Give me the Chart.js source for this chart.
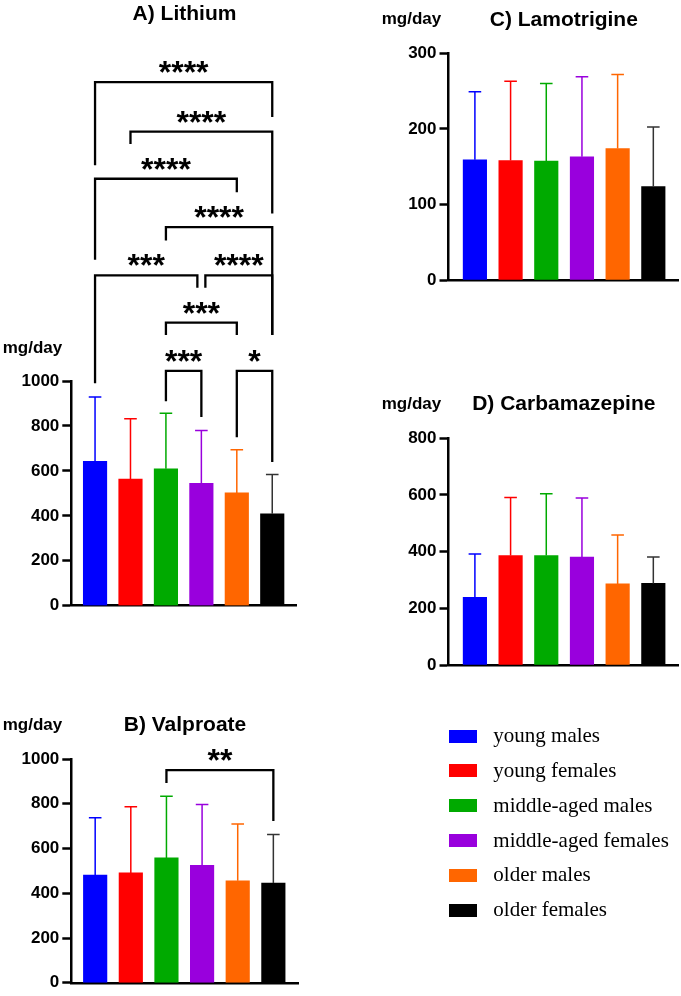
<!DOCTYPE html>
<html>
<head>
<meta charset="utf-8">
<script src="https://cdn.jsdelivr.net/npm/chart.js@4/dist/chart.umd.min.js"></script>
<style>
  html, body { margin: 0; padding: 0; background: #fff; }
  #wrap { position: relative; width: 681px; height: 996px; overflow: hidden; background: #fff; }
  canvas { position: absolute; }
  .t { position: absolute; font-family: "Liberation Sans", Arial, sans-serif; font-weight: bold; color: #000; line-height: 1; white-space: nowrap; }
  .title { font-size: 21px; transform: translateX(-50%); }
  .unit { font-size: 17px; }
  .lg { position: absolute; font-family: "Liberation Serif", "Times New Roman", serif; font-size: 21px; line-height: 1; color: #000; white-space: nowrap; }
  .sw { position: absolute; width: 28px; height: 13px; }
</style>
</head>
<body>
<div id="wrap">
  <canvas id="cA" width="340" height="620" style="left:0;top:0"></canvas>
  <canvas id="cB" width="340" height="376" style="left:0;top:620px"></canvas>
  <canvas id="cC" width="341" height="300" style="left:340px;top:0"></canvas>
  <canvas id="cD" width="341" height="400" style="left:340px;top:300px"></canvas>

  <div class="t title" style="left:184.5px;top:1.7px">A) Lithium</div>
  <div class="t unit" style="left:2.7px;top:338.5px">mg/day</div>
  <div class="t title" style="left:185px;top:712.9px">B) Valproate</div>
  <div class="t unit" style="left:2.7px;top:715.6px">mg/day</div>
  <div class="t title" style="left:563.8px;top:8.2px">C) Lamotrigine</div>
  <div class="t unit" style="left:381.7px;top:9.6px">mg/day</div>
  <div class="t title" style="left:563.8px;top:392.2px">D) Carbamazepine</div>
  <div class="t unit" style="left:381.7px;top:394.9px">mg/day</div>
  <div id="legend"></div>
</div>
<script>
// ---------------- DATA ----------------
const groups = ['young males', 'young females', 'middle-aged males', 'middle-aged females', 'older males', 'older females'];

const lithiumMean = [643, 563, 609, 545, 502, 409];
const lithiumSD   = [286, 269, 248, 235, 192, 175];

const valproateMean = [481, 491, 558, 525, 456, 446];
const valproateSD   = [257, 296, 276, 272, 254, 217];

const lamotrigineMean = [159, 158, 157.5, 163, 174, 123.5];
const lamotrigineSD   = [90, 105, 102.5, 106, 98, 79];

const carbamazepineMean = [239, 386, 386, 381, 286, 288];
const carbamazepineSD   = [153, 205, 218, 208, 173, 93];

// comparisons: [groupA, groupB, label, bracket level, left leg end, right leg end] (mg/day units)
const lithiumBrackets = [
  [0, 5, '****', 2330, 1960, 2175],
  [1, 5, '****', 2110, 2055, 1745],
  [0, 4, '****', 1900, 1540, 1840],
  [2, 5, '****', 1685, 1625, 1205],
  [0, 3, '***',  1470,  990, 1415],
  [3, 5, '****', 1470, 1415, 1205],
  [2, 4, '***',  1260, 1205, 1205],
  [2, 3, '***',  1045,  910,  840],
  [4, 5, '*',    1045,  750,  640]
];
const valproateBrackets = [
  [2, 5, '**', 950, 893, 723]
];

const lithiumTicks = [0, 200, 400, 600, 800, 1000];
const valproateTicks = [0, 200, 400, 600, 800, 1000];
const lamotrigineTicks = [0, 100, 200, 300];
const carbamazepineTicks = [0, 200, 400, 600, 800];

// ---------------- STYLE ----------------
const colors = ['#0000FF', '#FF0000', '#00AA00', '#9900DD', '#FF6600', '#000000'];
const FONT = '"Liberation Sans", Arial, sans-serif';

const errorBarPlugin = {
  id: 'errbars',
  afterDatasetsDraw(chart, args, opts) {
    const ctx = chart.ctx, xs = chart.scales.x, ys = chart.scales.y;
    const means = opts.means, sds = opts.sds;
    ctx.save();
    ctx.lineWidth = 1.5;
    ctx.lineCap = 'butt';
    means.forEach((m, i) => {
      const x = xs.getPixelForValue(i);
      const y0 = ys.getPixelForValue(m);
      const y1 = ys.getPixelForValue(m + sds[i]);
      ctx.strokeStyle = i === 5 ? '#333' : colors[i];
      ctx.beginPath();
      ctx.moveTo(x, y0);
      ctx.lineTo(x, y1);
      ctx.moveTo(x - 6.3, y1);
      ctx.lineTo(x + 6.3, y1);
      ctx.stroke();
    });
    ctx.restore();
  }
};

const bracketPlugin = {
  id: 'brackets',
  afterDraw(chart, args, opts) {
    const list = opts.list || [];
    if (!list.length) return;
    const ctx = chart.ctx, xs = chart.scales.x, ys = chart.scales.y;
    ctx.save();
    ctx.lineWidth = 2.3;
    ctx.strokeStyle = '#000';
    ctx.fillStyle = '#000';
    ctx.lineJoin = 'miter';
    list.forEach((b, k) => {
      const [a, c, label, top, lEnd, rEnd] = b;
      let xl = xs.getPixelForValue(a);
      let xr = xs.getPixelForValue(c);
      // nudge ends that meet another bracket at the same level
      list.forEach((o, j) => {
        if (j === k || o[3] !== top) return;
        if (o[0] === c) xr -= 4;
        if (o[1] === a) xl += 4;
      });
      const yt = ys.getPixelForValue(top);
      ctx.beginPath();
      ctx.moveTo(xl, ys.getPixelForValue(lEnd));
      ctx.lineTo(xl, yt);
      ctx.lineTo(xr, yt);
      ctx.lineTo(xr, ys.getPixelForValue(rEnd));
      ctx.stroke();
      ctx.font = 'bold 32px ' + FONT;
      ctx.textAlign = 'center';
      ctx.textBaseline = 'alphabetic';
      ctx.fillText(label, (xl + xr) / 2, yt + 1);
    });
    ctx.restore();
  }
};

function makePanel(id, means, sds, brackets, ticks, cfg) {
  const data = means.map((v, i) => ({ x: i, y: v }));
  return new Chart(document.getElementById(id), {
    type: 'bar',
    data: {
      labels: groups,
      datasets: [{
        data: data,
        backgroundColor: colors,
        borderWidth: 0,
        barThickness: 23.5
      }]
    },
    options: {
      responsive: false,
      animation: false,
      devicePixelRatio: 1,
      layout: { padding: cfg.padding },
      plugins: {
        legend: { display: false },
        tooltip: { enabled: false },
        errbars: { means: means, sds: sds },
        brackets: { list: brackets }
      },
      scales: {
        x: {
          type: 'linear',
          offset: false,
          bounds: 'data',
          min: cfg.xmin,
          max: cfg.xmax,
          ticks: { display: false },
          grid: { display: false, offset: false },
          border: { display: true, color: '#000', width: 2.5 },
          afterFit(s) { s.height = 0; }
        },
        y: {
          type: 'linear',
          min: ticks[0],
          max: ticks[ticks.length - 1],
          afterBuildTicks(s) { s.ticks = ticks.map(v => ({ value: v })); },
          ticks: {
            color: '#000',
            padding: 3,
            font: { family: FONT, weight: 'bold', size: 17 },
            callback: v => String(v)
          },
          grid: {
            display: true,
            drawOnChartArea: false,
            drawTicks: true,
            tickLength: 9,
            tickWidth: 2.5,
            tickColor: '#000'
          },
          border: { display: true, color: '#000', width: 2.5 },
          afterFit(s) { s.width = cfg.yWidth; }
        }
      }
    },
    plugins: [errorBarPlugin, bracketPlugin]
  });
}

makePanel('cA', lithiumMean, lithiumSD, lithiumBrackets, lithiumTicks, {
  padding: { left: 0, top: 381, right: 43.3, bottom: 14.3 },
  yWidth: 71.3, xmin: -0.67, xmax: 5.69
});
makePanel('cB', valproateMean, valproateSD, valproateBrackets, valproateTicks, {
  padding: { left: 0, top: 139, right: 41.7, bottom: 10.7 },
  yWidth: 71.3, xmin: -0.67, xmax: 5.70
});
makePanel('cC', lamotrigineMean, lamotrigineSD, [], lamotrigineTicks, {
  padding: { left: 0, top: 53.3, right: 2.7, bottom: 20 },
  yWidth: 108.5, xmin: -0.74, xmax: 5.70
});
makePanel('cD', carbamazepineMean, carbamazepineSD, [], carbamazepineTicks, {
  padding: { left: 0, top: 138.3, right: 2.7, bottom: 35 },
  yWidth: 108.5, xmin: -0.74, xmax: 5.70
});

// ---------------- LEGEND ----------------
const lg = document.getElementById('legend');
groups.forEach((g, i) => {
  const cy = 736 + i * 34.8;
  const sw = document.createElement('div');
  sw.className = 'sw';
  sw.style.left = '449.3px';
  sw.style.top = (cy - 6.5) + 'px';
  sw.style.background = colors[i];
  lg.appendChild(sw);
  const tx = document.createElement('div');
  tx.className = 'lg';
  tx.style.left = '493.3px';
  tx.style.top = (cy + 6.7 - 17.6) + 'px';
  tx.textContent = g;
  lg.appendChild(tx);
});
</script>
</body>
</html>
